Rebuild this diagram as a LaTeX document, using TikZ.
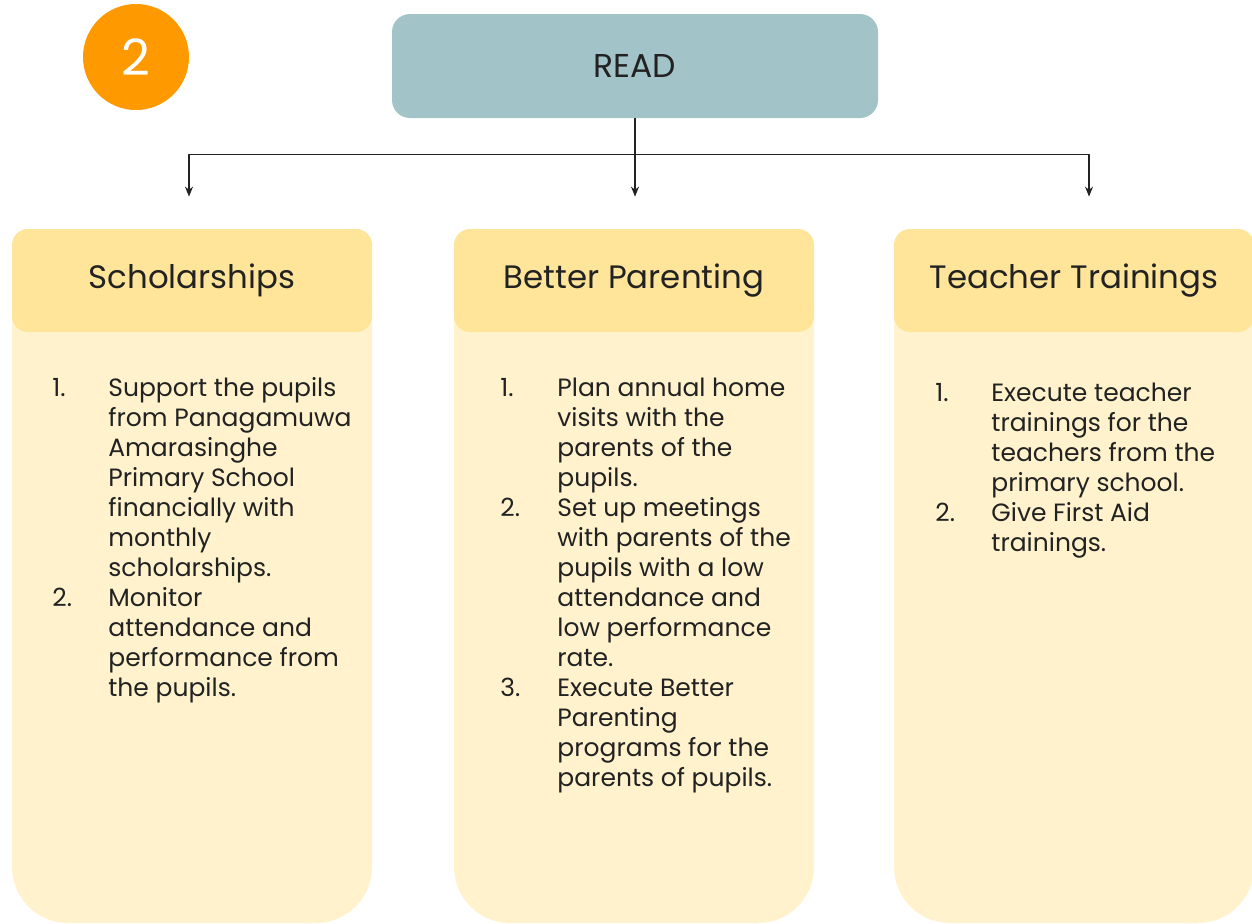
\documentclass[tikz,border=0pt]{standalone}
\usepackage{fontspec}
\setmainfont{Poppins}
\usetikzlibrary{calc,arrows.meta}
\definecolor{numorange}{HTML}{FF9900}
\definecolor{readteal}{HTML}{A2C4C9}
\definecolor{headyellow}{HTML}{FFE599}
\definecolor{bodyyellow}{HTML}{FFF2CC}
\definecolor{inkgray}{HTML}{222222}
\begin{document}
\begin{tikzpicture}[x=0.5pt,y=-0.5pt,line join=round,>={Stealth[length=5pt,width=4pt]},
	topic/.style={fill=headyellow,rounded corners=8pt,minimum width=180pt,minimum height=51.5pt,text=inkgray,font=\fontsize{16.2}{19}\selectfont},
	items/.style={anchor=base west,inner sep=0pt,text=inkgray,font=\fontsize{12.5}{15}\selectfont},
	link/.style={->,draw=inkgray,line width=0.6pt,shorten >=16pt}]
		\useasboundingbox (0,0) rectangle (1252,923);
		% column bodies, rounded at the bottom only
		\foreach \xl in {12,454,894}
			\fill[bodyyellow,rounded corners=28pt] (\xl,300) -- (\xl,923) -- (\xl+360,923) -- (\xl+360,300);
		\node[topic] (sch) at (192,280.5) {Scholarships};
		\node[topic] (par) at (634,280.5) {Better Parenting};
		\node[topic] (tea) at (1074,280.5) {Teacher Trainings};
		\node[fill=readteal,rounded corners=9pt,minimum width=243pt,minimum height=52pt,text=inkgray,font=\fontsize{16.5}{19}\selectfont] (read) at (635,66) {READ};
		\node[circle,fill=numorange,minimum size=53pt,text=white,font=\fontsize{25}{28}\selectfont] (num) at (136,57) {2};
		\coordinate (bar) at ($(read.south)+(0,36)$);
		\draw[link] (read.south) -- (read.south |- par.north);
		\draw[link] (bar) -| ([xshift=-1.5pt]sch.north);
		\draw[link] (bar) -| ([xshift=7.5pt]tea.north);
		\node[items] (schlist) at (52,396) {\begin{tabular}[t]{@{}p{28pt}@{}l@{}}
			1. & Support the pupils\\ & from Panagamuwa\\ & Amarasinghe\\ & Primary School\\ & financially with\\ & monthly\\ & scholarships.\\
			2. & Monitor\\ & attendance and\\ & performance from\\ & the pupils.
		\end{tabular}};
		\node[items] (parlist) at (500,396) {\begin{tabular}[t]{@{}p{28.5pt}@{}l@{}}
			1. & Plan annual home\\ & visits with the\\ & parents of the\\ & pupils.\\
			2. & Set up meetings\\ & with parents of the\\ & pupils with a low\\ & attendance and\\ & low performance\\ & rate.\\
			3. & Execute Better\\ & Parenting\\ & programs for the\\ & parents of pupils.
		\end{tabular}};
		\node[items] (tealist) at (935,401) {\begin{tabular}[t]{@{}p{28pt}@{}l@{}}
			1. & Execute teacher\\ & trainings for the\\ & teachers from the\\ & primary school.\\
			2. & Give First Aid\\ & trainings.
		\end{tabular}};
\end{tikzpicture}
\end{document}
